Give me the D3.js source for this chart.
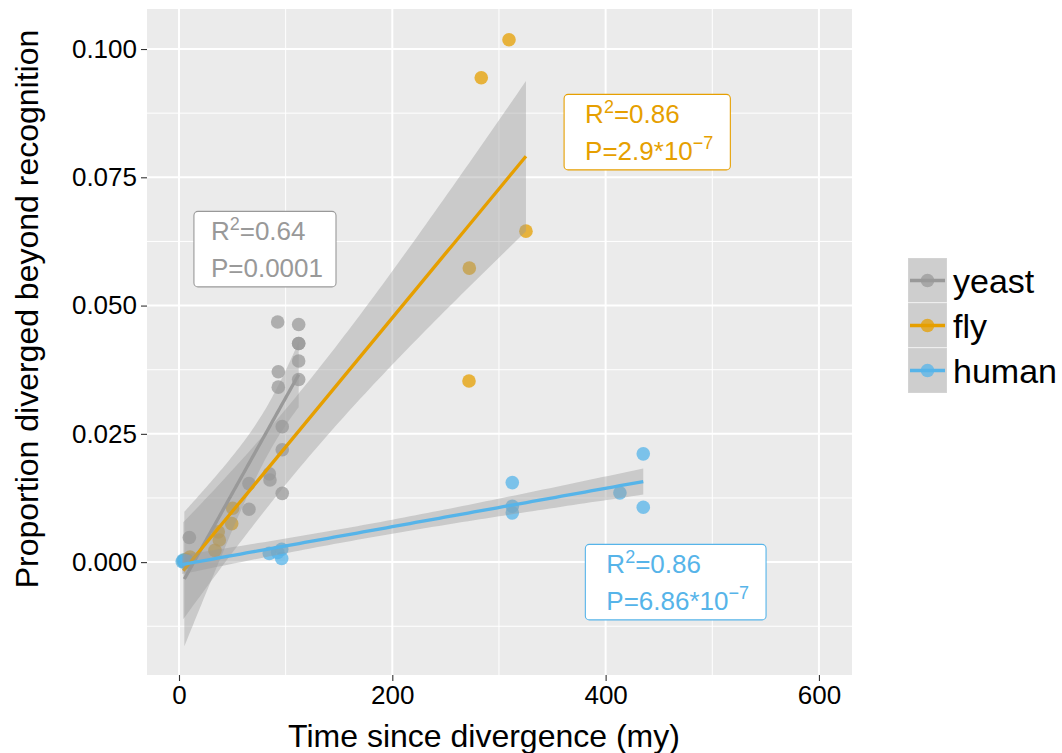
<!DOCTYPE html>
<html>
<head>
<meta charset="utf-8">
<script src="https://cdn.jsdelivr.net/npm/d3@7"></script>
<style>
  body { margin: 0; background: #fff; }
  text { font-family: "Liberation Sans", Arial, sans-serif; }
</style>
</head>
<body>
<script>
// ---- data ----
const species = ["yeast", "fly", "human"];
const speciesColors = ["#999999", "#E69F00", "#56B4E9"];

const yeastTime = [5, 9.7, 65.6, 65.6, 84.7, 85.3, 92.5, 93.1, 93.1, 96.8, 96.8, 96.8, 112.2, 112.2, 112.2, 112.2, 112.2];
const yeastProp = [0.0002, 0.0048, 0.0153, 0.0103, 0.0172, 0.0160, 0.0468, 0.0371, 0.0341, 0.0264, 0.0219, 0.0134, 0.0463, 0.0426, 0.0426, 0.0392, 0.0356];

// several fly and human points overlap in the blob at the origin
const flyTime = [4, 5, 5.6, 6, 7, 10.3, 33.7, 36.8, 37.8, 49.4, 50.3, 271.9, 272.2, 283.4, 309.4, 325.3];
const flyProp = [0.0002, 0.0003, 0.0004, 0.0002, 0.0005, 0.0010, 0.0023, 0.0059, 0.0043, 0.0075, 0.0105, 0.0353, 0.0573, 0.0944, 0.1018, 0.0645];

const humanTime = [3, 4, 5, 6, 7, 8, 84.7, 92.5, 96.3, 96.3, 312.5, 312.5, 312.5, 413.4, 435.3, 435.3];
const humanProp = [0.0001, 0.0004, 0.0000, 0.0002, 0.0000, 0.0001, 0.0017, 0.0019, 0.0025, 0.0007, 0.0155, 0.0109, 0.0096, 0.0135, 0.0211, 0.0107];

// annotation labels (centre of each label, data units)
const labelSpecies = ["yeast", "fly", "human"];
const labelR2 = ["0.64", "0.86", "0.86"];
const labelP = [["0.0001", null], ["2.9*10", "\u22127"], ["6.86*10", "\u22127"]];
const labelX = [80.6, 439, 465.7];
const labelY = [0.061, 0.0838, -0.0039];

const xTicks = [0, 200, 400, 600];
const yTicks = [0, 0.025, 0.05, 0.075, 0.1];

// ---- layout ----
const width = 1062, height = 753;
const panel = { left: 147, right: 852, top: 9, bottom: 675 };

const svg = d3.select("body").append("svg")
  .attr("width", width)
  .attr("height", height);

const x = d3.scaleLinear().domain([-30, 631]).range([panel.left, panel.right]);
const y = d3.scaleLinear().domain([-0.0220, 0.1078]).range([panel.bottom, panel.top]);

const series = [
  { name: "yeast", time: yeastTime, prop: yeastProp },
  { name: "fly", time: flyTime, prop: flyProp },
  { name: "human", time: humanTime, prop: humanProp }
].map(s => ({ ...s, color: speciesColors[species.indexOf(s.name)] }));

// t quantile (0.975) via Cornish-Fisher style expansion
function qt975(v) {
  const z = 1.959963985;
  const z3 = z ** 3, z5 = z ** 5, z7 = z ** 7, z9 = z ** 9;
  return z + (z3 + z) / (4 * v)
    + (5 * z5 + 16 * z3 + 3 * z) / (96 * v * v)
    + (3 * z7 + 19 * z5 + 17 * z3 - 15 * z) / (384 * v ** 3)
    + (79 * z9 + 776 * z7 + 1482 * z5 - 1920 * z3 - 945 * z) / (92160 * v ** 4);
}

// linear model + 95% confidence band, like geom_smooth(method = "lm")
function smooth(xs, ys) {
  const n = xs.length;
  const mx = d3.mean(xs), my = d3.mean(ys);
  let sxx = 0, sxy = 0;
  xs.forEach((xi, i) => { sxx += (xi - mx) ** 2; sxy += (xi - mx) * (ys[i] - my); });
  const b = sxy / sxx, a = my - b * mx;
  const rss = d3.sum(xs, (xi, i) => (ys[i] - a - b * xi) ** 2);
  const s = Math.sqrt(rss / (n - 2));
  const t = qt975(n - 2);
  const [x0, x1] = d3.extent(xs);
  return d3.range(80).map(i => {
    const xv = x0 + (x1 - x0) * i / 79;
    const fitv = a + b * xv;
    const se = s * Math.sqrt(1 / n + (xv - mx) ** 2 / sxx);
    return { x: xv, y: fitv, lo: fitv - t * se, hi: fitv + t * se };
  });
}

// ---- panel ----
svg.append("defs").append("clipPath").attr("id", "clip")
  .append("rect")
  .attr("x", panel.left).attr("y", panel.top)
  .attr("width", panel.right - panel.left)
  .attr("height", panel.bottom - panel.top);

svg.append("rect")
  .attr("x", panel.left).attr("y", panel.top)
  .attr("width", panel.right - panel.left)
  .attr("height", panel.bottom - panel.top)
  .attr("fill", "#EBEBEB");

const grid = svg.append("g").classed("grid", true);
const xMinor = [100, 300, 500];
const yMinor = [-0.0125, 0.0125, 0.0375, 0.0625, 0.0875];

grid.selectAll(".xminor").data(xMinor).enter().append("line")
  .attr("x1", d => x(d)).attr("x2", d => x(d))
  .attr("y1", panel.top).attr("y2", panel.bottom)
  .attr("stroke", "#fff").attr("stroke-width", 1);
grid.selectAll(".yminor").data(yMinor).enter().append("line")
  .attr("y1", d => y(d)).attr("y2", d => y(d))
  .attr("x1", panel.left).attr("x2", panel.right)
  .attr("stroke", "#fff").attr("stroke-width", 1);
grid.selectAll(".xmajor").data(xTicks).enter().append("line")
  .attr("x1", d => x(d)).attr("x2", d => x(d))
  .attr("y1", panel.top).attr("y2", panel.bottom)
  .attr("stroke", "#fff").attr("stroke-width", 2);
grid.selectAll(".ymajor").data(yTicks).enter().append("line")
  .attr("y1", d => y(d)).attr("y2", d => y(d))
  .attr("x1", panel.left).attr("x2", panel.right)
  .attr("stroke", "#fff").attr("stroke-width", 2);

const plot = svg.append("g").attr("clip-path", "url(#clip)");

// points
series.forEach(s => {
  plot.append("g")
    .selectAll("circle")
    .data(s.time.map((t, i) => [t, s.prop[i]]))
    .enter()
    .append("circle")
    .attr("cx", d => x(d[0]))
    .attr("cy", d => y(d[1]))
    .attr("r", 6.8)
    .attr("fill", s.color)
    .attr("fill-opacity", 0.75);
});

// smooths: ribbon then line, per group
const area = d3.area().x(d => x(d.x)).y0(d => y(d.lo)).y1(d => y(d.hi));
const line = d3.line().x(d => x(d.x)).y(d => y(d.y));

series.forEach(s => {
  const fitted = smooth(s.time, s.prop);
  plot.append("path")
    .attr("d", area(fitted))
    .attr("fill", "#999999")
    .attr("fill-opacity", 0.4);
  plot.append("path")
    .attr("d", line(fitted))
    .attr("fill", "none")
    .attr("stroke", s.color)
    .attr("stroke-width", 3.3);
});

// ---- annotation labels ----
labelSpecies.forEach((sp, i) => {
  const color = speciesColors[species.indexOf(sp)];
  const g = svg.append("g");
  const cx = x(labelX[i]), cy = y(labelY[i]);
  const t1 = g.append("text")
    .attr("y", cy - 9.5)
    .attr("fill", color)
    .style("font-size", "26px");
  t1.append("tspan").text("R");
  t1.append("tspan").attr("dy", -10).style("font-size", "18px").text("2");
  t1.append("tspan").attr("dy", 10).text("=" + labelR2[i]);

  const t2 = g.append("text")
    .attr("y", cy + 28)
    .attr("fill", color)
    .style("font-size", "26px");
  t2.append("tspan").text("P=" + labelP[i][0]);
  if (labelP[i][1]) {
    t2.append("tspan").attr("dy", -11).style("font-size", "18px").text(labelP[i][1]);
  }

  const w = Math.max(t1.node().getBBox().width, t2.node().getBBox().width);
  const left = cx - w / 2;
  const pad = labelP[i][1] ? 19 : 15;
  t1.attr("x", left + 2);
  t2.attr("x", left + 2);
  t1.select("tspan").attr("x", left + 2);
  t2.select("tspan").attr("x", left + 2);

  g.insert("rect", "text")
    .attr("x", left - pad)
    .attr("y", cy - 37.75)
    .attr("width", w + 2 * pad)
    .attr("height", 75.5)
    .attr("rx", 4)
    .attr("fill", "#fff")
    .attr("stroke", color)
    .attr("stroke-width", 1.1);
});

// ---- axes ----
const xAxis = svg.append("g")
  .attr("transform", `translate(0,${panel.bottom})`)
  .call(d3.axisBottom(x).tickValues(xTicks).tickSize(6).tickPadding(5).tickFormat(d3.format("d")));
const yAxis = svg.append("g")
  .attr("transform", `translate(${panel.left},0)`)
  .call(d3.axisLeft(y).tickValues(yTicks).tickSize(6).tickPadding(4).tickFormat(d3.format(".3f")));

[xAxis, yAxis].forEach(a => {
  a.select(".domain").remove();
  a.selectAll(".tick line").attr("stroke", "#333").attr("stroke-width", 1.1);
  a.selectAll(".tick text")
    .attr("fill", "#000")
    .style("font-size", "26px")
    .style("font-family", "'Liberation Sans', Arial, sans-serif");
});

svg.append("text")
  .attr("x", 484)
  .attr("y", 747)
  .attr("text-anchor", "middle")
  .style("font-size", "32px")
  .text("Time since divergence (my)");

svg.append("text")
  .attr("transform", "translate(38,309) rotate(-90)")
  .attr("text-anchor", "middle")
  .style("font-size", "32px")
  .text("Proportion diverged beyond recognition");

// ---- legend ----
const legend = svg.append("g").attr("transform", "translate(908,258)");
const keyW = 39, keyH = 45;
const keys = legend.selectAll(".key")
  .data(species)
  .enter()
  .append("g")
  .attr("transform", (d, i) => `translate(0,${i * keyH})`);

keys.append("rect")
  .attr("width", keyW).attr("height", keyH)
  .attr("fill", "#F2F2F2")
  .attr("stroke", "#fff").attr("stroke-width", 1.2);
keys.append("rect")
  .attr("width", keyW).attr("height", keyH)
  .attr("fill", "#999999").attr("fill-opacity", 0.4);
keys.append("circle")
  .attr("cx", keyW / 2).attr("cy", keyH / 2).attr("r", 6.8)
  .attr("fill", (d, i) => speciesColors[i]).attr("fill-opacity", 0.75);
keys.append("line")
  .attr("x1", 2).attr("x2", keyW - 2)
  .attr("y1", keyH / 2).attr("y2", keyH / 2)
  .attr("stroke", (d, i) => speciesColors[i]).attr("stroke-width", 3.3);
keys.append("text")
  .attr("x", keyW + 6)
  .attr("y", keyH / 2)
  .attr("dy", "0.36em")
  .style("font-size", "34px")
  .text(d => d);
</script>
</body>
</html>
